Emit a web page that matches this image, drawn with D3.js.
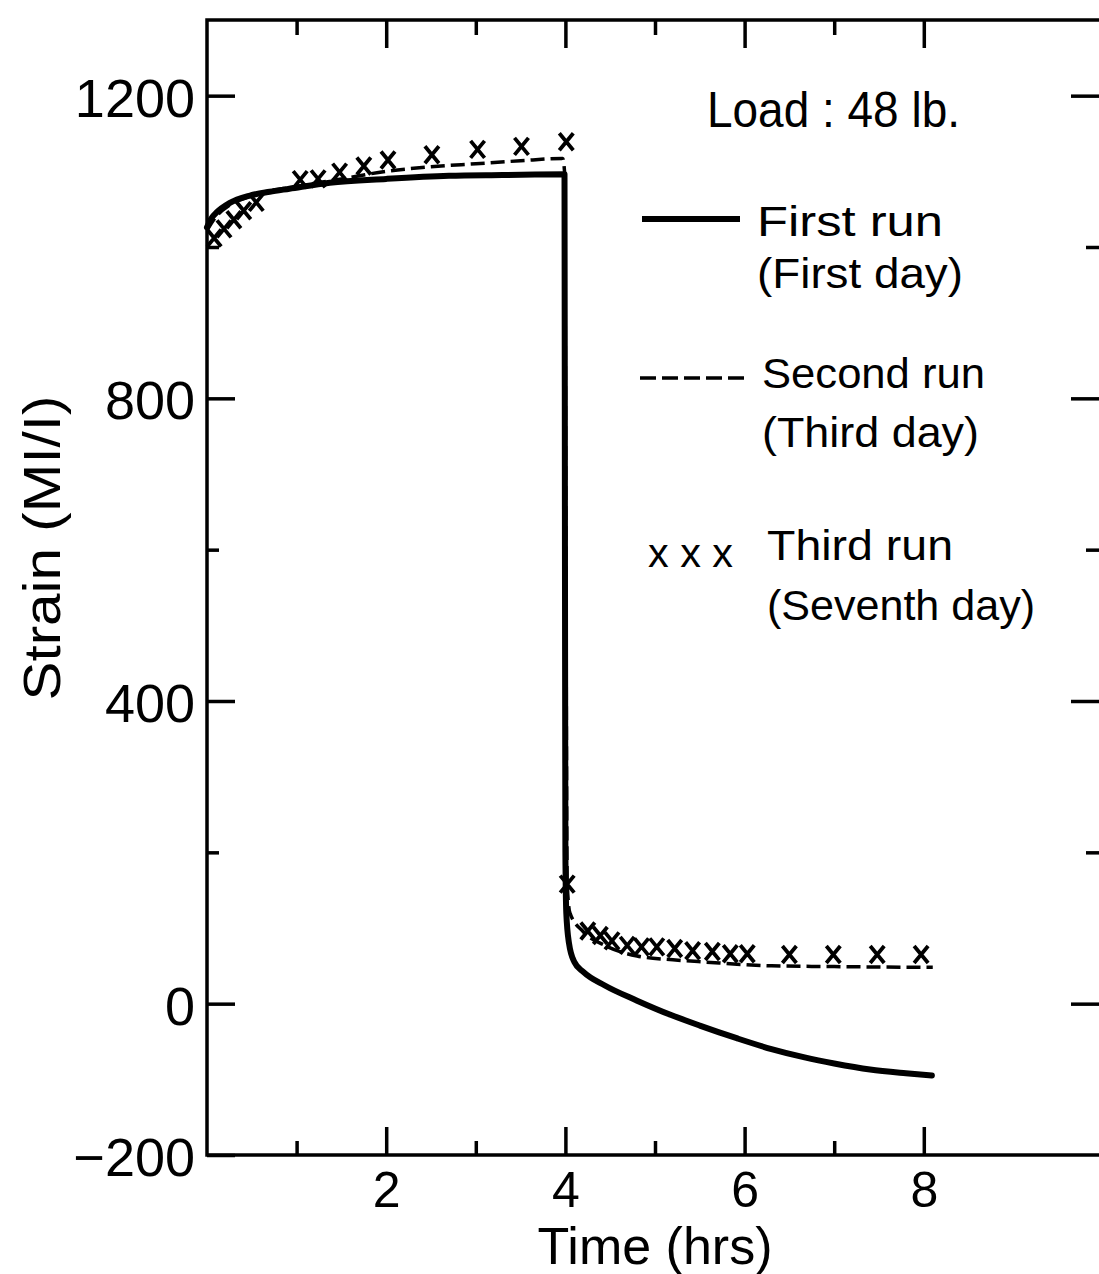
<!DOCTYPE html>
<html>
<head>
<meta charset="utf-8">
<script src="https://cdn.jsdelivr.net/npm/d3@7"></script>
<style>
  html, body { margin: 0; padding: 0; background: #fff; }
  svg { display: block; }
  text { font-family: "Liberation Sans", Arial, sans-serif; fill: #000; }
</style>
</head>
<body>
<svg id="canvas"></svg>
<script>
// values
const firstRunTime   = [0, 0.05, 0.11, 0.25, 0.48, 0.7, 0.92, 1.37, 2.0, 2.7, 3.3, 3.99, 3.995, 4.0, 4.01, 4.04, 4.1, 4.2, 4.44, 4.8, 5.18, 5.5, 5.92, 6.3, 6.67, 7.0, 7.4, 7.8, 8.09];
const firstRunStrain = [1026, 1038, 1046, 1058, 1068, 1073, 1077, 1085, 1090, 1094, 1095, 1096, 600, 200, 120, 80, 55, 42, 24, 4, -15, -29, -46, -60, -71, -79, -87, -92, -95];

const secondRunTime   = [0, 0.1, 0.25, 0.5, 1.0, 1.5, 2.0, 2.5, 3.0, 3.5, 3.97, 3.99, 4.02, 4.05, 4.2, 4.44, 4.8, 5.2, 5.56, 6.3, 7.0, 8.1];
const secondRunStrain = [1022, 1040, 1055, 1068, 1080, 1090, 1100, 1106, 1110, 1114, 1117, 1100, 160, 120, 95, 77, 63, 58, 55, 50, 49, 48];

const thirdRunTime   = [0.08, 0.19, 0.30, 0.41, 0.55, 1.04, 1.24, 1.48, 1.75, 2.02, 2.51, 3.02, 3.51, 4.01,
                        4.02, 4.25, 4.39, 4.52, 4.69, 4.85, 5.02, 5.22, 5.42, 5.64, 5.84, 6.03, 6.5, 6.99, 7.48, 7.97];
const thirdRunStrain = [1012, 1024, 1036, 1048, 1059, 1089, 1090, 1099, 1107, 1115, 1122, 1129, 1133, 1139,
                        158, 96, 90, 83, 77, 75, 75, 73, 70, 69, 66, 66, 65, 65, 65, 65];

const xMajorTicks = [2, 4, 6, 8];
const xMinorTicks = [1, 3, 5, 7];
const yMajorTicks = [1200, 800, 400, 0, -200];
const yMinorTicks = [1000, 600, 200];
const yRightLong  = [1200, 800, 400, 0];

const legendItems = [
  { kind: 'solid',  lines: ['First run', '(First day)'] },
  { kind: 'dashed', lines: ['Second run', '(Third day)'] },
  { kind: 'cross',  lines: ['Third run', '(Seventh day)'] }
];
const loadLabel = 'Load : 48 lb.';

const W = 1099, H = 1274;
const plotLeft = 207, plotRight = 1103, plotTop = 20, plotBottom = 1155;

const svg = d3.select('#canvas').attr('width', W).attr('height', H);

const x = d3.scaleLinear().domain([0, 10]).range([plotLeft, plotRight]);
const y = d3.scaleLinear().domain([-200, 1300]).range([plotBottom, plotTop]);

// frame
svg.append('rect')
  .attr('x', plotLeft).attr('y', plotTop)
  .attr('width', plotRight - plotLeft).attr('height', plotBottom - plotTop)
  .attr('fill', 'none').attr('stroke', '#000').attr('stroke-width', 3.5);

function styleAxis(g, size) {
  g.select('.domain').remove();
  g.selectAll('.tick line').attr('stroke', '#000').attr('stroke-width', 3.5);
  g.selectAll('.tick text').style('font-size', size + 'px').attr('fill', '#000');
}

// bottom axis
svg.append('g').attr('transform', 'translate(0,' + plotBottom + ')')
  .call(d3.axisBottom(x).tickValues(xMajorTicks).tickSize(-28).tickPadding(16).tickFormat(d3.format('d')))
  .call(g => styleAxis(g, 50));
svg.append('g').attr('transform', 'translate(0,' + plotBottom + ')')
  .call(d3.axisBottom(x).tickValues(xMinorTicks).tickSize(-14).tickFormat(''))
  .call(g => styleAxis(g, 50));

// top ticks
svg.append('g').attr('transform', 'translate(0,' + plotTop + ')')
  .call(d3.axisTop(x).tickValues(xMajorTicks).tickSize(-28).tickFormat(''))
  .call(g => styleAxis(g, 50));
svg.append('g').attr('transform', 'translate(0,' + plotTop + ')')
  .call(d3.axisTop(x).tickValues(xMinorTicks).tickSize(-15).tickFormat(''))
  .call(g => styleAxis(g, 50));

// left axis
svg.append('g').attr('transform', 'translate(' + plotLeft + ',0)')
  .call(d3.axisLeft(y).tickValues(yMajorTicks).tickSize(-28).tickPadding(12)
    .tickFormat(d => d < 0 ? '\u2212' + Math.abs(d) : d))
  .call(g => styleAxis(g, 54))
  .call(g => g.selectAll('.tick text').attr('dy', '0.38em'));
svg.append('g').attr('transform', 'translate(' + plotLeft + ',0)')
  .call(d3.axisLeft(y).tickValues(yMinorTicks).tickSize(-12).tickFormat(''))
  .call(g => styleAxis(g, 54));

// right ticks
svg.append('g').attr('transform', 'translate(' + plotRight + ',0)')
  .call(d3.axisRight(y).tickValues(yRightLong).tickSize(-32).tickFormat(''))
  .call(g => styleAxis(g, 54));
svg.append('g').attr('transform', 'translate(' + plotRight + ',0)')
  .call(d3.axisRight(y).tickValues(yMinorTicks).tickSize(-17).tickFormat(''))
  .call(g => styleAxis(g, 54));

// axis titles
svg.append('text')
  .attr('x', (plotLeft + plotRight) / 2).attr('y', 1264)
  .attr('text-anchor', 'middle')
  .style('font-size', '52px')
  .text('Time (hrs)');

svg.append('text')
  .attr('transform', 'translate(60,' + 548 + ') rotate(-90)')
  .attr('text-anchor', 'middle')
  .attr('textLength', 305).attr('lengthAdjust', 'spacingAndGlyphs')
  .style('font-size', '52px')
  .text('Strain (MI/I)');

// curves
const line = d3.line()
  .x(d => x(d[0]))
  .y(d => y(d[1]))
  .curve(d3.curveMonotoneX);

const secondData = d3.zip(secondRunTime, secondRunStrain);
svg.append('path')
  .datum(secondData)
  .attr('d', line)
  .attr('fill', 'none').attr('stroke', '#000')
  .attr('stroke-width', 3.5).attr('stroke-dasharray', '14,6');

const firstData = d3.zip(firstRunTime, firstRunStrain);
svg.append('path')
  .datum(firstData)
  .attr('d', line)
  .attr('fill', 'none').attr('stroke', '#000')
  .attr('stroke-width', 6).attr('stroke-linejoin', 'round').attr('stroke-linecap', 'round');

// x markers
const crossPath = 'M-7,-8.5L7,8.5M7,-8.5L-7,8.5';
svg.append('g').selectAll('path')
  .data(d3.zip(thirdRunTime, thirdRunStrain))
  .enter()
  .append('path')
  .attr('transform', d => 'translate(' + x(d[0]) + ',' + y(d[1]) + ')')
  .attr('d', crossPath)
  .attr('fill', 'none').attr('stroke', '#000').attr('stroke-width', 3.8);

// legend
const legend = svg.append('g');
legend.append('text')
  .attr('x', 707).attr('y', 127)
  .attr('textLength', 253).attr('lengthAdjust', 'spacingAndGlyphs')
  .style('font-size', '50px')
  .text(loadLabel);

const legendRows = [
  { y1: 236, y2: 288, x1: 757, len1: 186, len2: 206, keyY: 219 },
  { y1: 388, y2: 447, x1: 762, len1: 223, len2: 217, keyY: 378 },
  { y1: 560, y2: 620, x1: 767, len1: 186, len2: 268, keyY: 556 }
];

legendItems.forEach((item, i) => {
  const r = legendRows[i];
  legend.append('text')
    .attr('x', r.x1).attr('y', r.y1)
    .attr('textLength', r.len1).attr('lengthAdjust', 'spacingAndGlyphs')
    .style('font-size', '42px')
    .text(item.lines[0]);
  legend.append('text')
    .attr('x', r.x1).attr('y', r.y2)
    .attr('textLength', r.len2).attr('lengthAdjust', 'spacingAndGlyphs')
    .style('font-size', '42px')
    .text(item.lines[1]);
  if (item.kind === 'solid') {
    legend.append('line')
      .attr('x1', 642).attr('x2', 740).attr('y1', r.keyY).attr('y2', r.keyY)
      .attr('stroke', '#000').attr('stroke-width', 6);
  } else if (item.kind === 'dashed') {
    legend.append('line')
      .attr('x1', 640).attr('x2', 747).attr('y1', r.keyY).attr('y2', r.keyY)
      .attr('stroke', '#000').attr('stroke-width', 3.5).attr('stroke-dasharray', '16,6');
  } else {
    legend.append('text')
      .attr('x', 648).attr('y', 567)
      .attr('textLength', 85).attr('lengthAdjust', 'spacingAndGlyphs')
      .style('font-size', '40px')
      .text('x x x');
  }
});
</script>
</body>
</html>
